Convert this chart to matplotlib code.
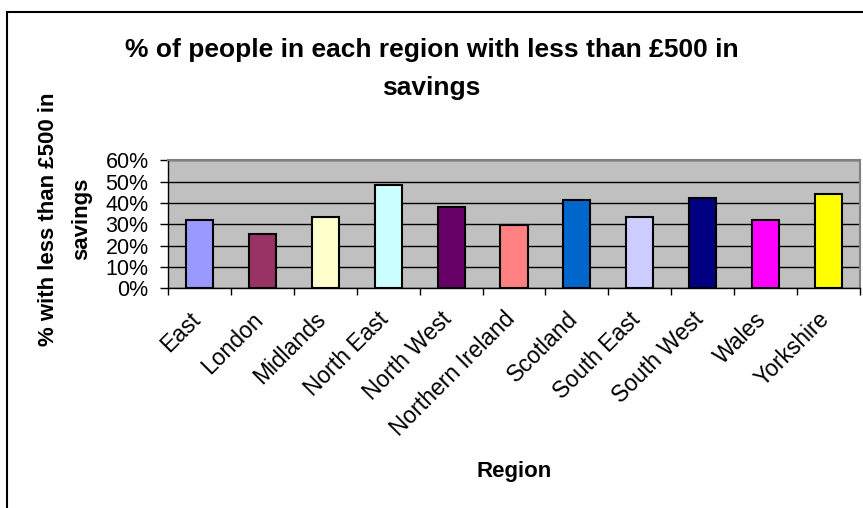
import matplotlib
matplotlib.use("Agg")
import matplotlib.pyplot as plt
import matplotlib.patches as patches
import matplotlib.transforms as mtransforms
from matplotlib.ticker import PercentFormatter
import numpy as np

plt.rcParams['font.family'] = ['Liberation Sans', 'DejaVu Sans']

regions = ["East", "London", "Midlands", "North East", "North West",
           "Northern Ireland", "Scotland", "South East", "South West",
           "Wales", "Yorkshire"]
share = [0.32, 0.253, 0.336, 0.483, 0.381, 0.295, 0.412, 0.336, 0.422,
         0.32, 0.44]
colours = ["#9999FF", "#993366", "#FFFFCC", "#CCFFFF", "#660066", "#FF8080",
           "#0066CC", "#CCCCFF", "#000080", "#FF00FF", "#FFFF00"]
y_ticks = [0, 0.1, 0.2, 0.3, 0.4, 0.5, 0.6]

W, H = 863, 508
fig = plt.figure(figsize=(W / 100, H / 100), dpi=100)

# chart area frame (runs off the right and bottom edge)
fig.patches.append(patches.Rectangle((7 / W, -0.1), 1.2, (H - 12) / H + 0.1,
                                     transform=fig.transFigure, fill=False,
                                     edgecolor="black", linewidth=1.5))

ax = fig.add_axes([168 / W, (H - 288.3) / H, 692 / W, 128 / H])
ax.set_facecolor("#C0C0C0")

x = np.arange(len(regions))
ax.bar(x, share, width=0.43, color=colours, edgecolor="black", linewidth=1.5,
       zorder=3)

ax.set_xlim(-0.5, len(regions) - 0.5)
ax.set_ylim(0, 0.6)
ax.set_yticks(y_ticks)
ax.yaxis.set_major_formatter(PercentFormatter(1.0, decimals=0))
ax.yaxis.grid(True, color="black", linewidth=1.0, zorder=1)
ax.set_axisbelow(True)

# category ticks between bars, labels at bar centres
ax.set_xticks(np.arange(len(regions) + 1) - 0.5)
ax.set_xticklabels([])
ax.set_xticks(x, minor=True)
ax.set_xticklabels(regions, minor=True, rotation=45, ha="right", va="top",
                   rotation_mode="anchor", fontsize=16.5)
ax.tick_params(axis="x", which="minor", length=0, pad=14)
ax.tick_params(axis="x", which="major", length=5, width=1, direction="out")
ax.tick_params(axis="y", length=6, width=1, direction="out", labelsize=15.5,
               pad=8)

# nudge the slanted labels a little to the left
shift = mtransforms.ScaledTranslation(-0.11, 0, fig.dpi_scale_trans)
for lbl in ax.get_xticklabels(minor=True):
    lbl.set_transform(lbl.get_transform() + shift)

for side in ["top", "right"]:
    ax.spines[side].set_color("#808080")
    ax.spines[side].set_linewidth(1.5)
for side in ["left", "bottom"]:
    ax.spines[side].set_color("black")
    ax.spines[side].set_linewidth(1.0)

fig.text(0.5, (H - 69) / H, "% of people in each region with less than £500 in\nsavings",
         ha="center", va="center", fontsize=19, fontweight="bold",
         linespacing=1.7)
fig.text(65 / W, (H - 219) / H, "% with less than £500 in\nsavings",
         ha="center", va="center", rotation=90, fontsize=16,
         fontweight="bold", linespacing=1.75)
fig.text(514 / W, (H - 471) / H, "Region", ha="center", va="center",
         fontsize=16, fontweight="bold")

fig.savefig("out.png", dpi=100)
